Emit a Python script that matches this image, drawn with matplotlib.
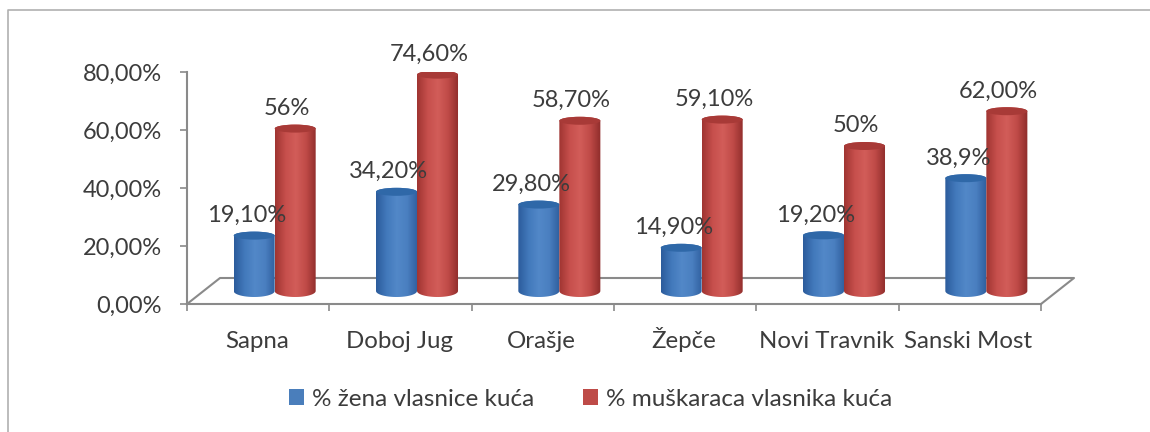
import numpy as np
import matplotlib.pyplot as plt
from matplotlib.colors import LinearSegmentedColormap
from matplotlib.lines import Line2D
from matplotlib.patches import Ellipse, Patch, PathPatch
from matplotlib.path import Path

plt.rcParams["font.family"] = ["Lato", "DejaVu Sans"]

categories = ["Sapna", "Doboj Jug", "Orašje", "Žepče", "Novi Travnik", "Sanski Most"]
zene = [19.1, 34.2, 29.8, 14.9, 19.2, 38.9]
muskarci = [56.0, 74.6, 58.7, 59.1, 50.0, 62.0]
zene_labels = ["19,10%", "34,20%", "29,80%", "14,90%", "19,20%", "38,9%"]
muskarci_labels = ["56%", "74,60%", "58,70%", "59,10%", "50%", "62,00%"]
y_ticks = [0, 20, 40, 60, 80]
y_tick_labels = ["0,00%", "20,00%", "40,00%", "60,00%", "80,00%"]
series_names = ["% žena vlasnice kuća", "% muškaraca vlasnika kuća"]

TEXT = "#3c3c3c"
AXIS = "#8a8a8a"
BLUE = ["#2c5c9c", "#4279bb", "#5288c8", "#4a7fc0", "#2f5f9e"]
RED = ["#a03532", "#c64f4c", "#d25d59", "#bf4a47", "#8f2d2b"]

# floor depth, in axis units
DEPTH_X = 33 / 142.3
DEPTH_Y = 26 / 2.9
BAR_W = 41 / 142.3
CAP_H = 8 / 2.9


def draw_cylinder(ax, x0, value, colors, cap_color):
    base = DEPTH_Y / 2
    top = base + value
    xc = x0 + BAR_W / 2
    verts = [(x0, top), (x0, base)]
    codes = [Path.MOVETO, Path.LINETO]
    t = np.linspace(np.pi, 2 * np.pi, 30)
    verts += [(xc + BAR_W / 2 * np.cos(a), base + CAP_H * 0.75 * np.sin(a)) for a in t]
    codes += [Path.LINETO] * 30
    t = np.linspace(0, np.pi, 30)
    verts += [(xc + BAR_W / 2 * np.cos(a), top + CAP_H / 2 * np.sin(a)) for a in t]
    codes += [Path.LINETO] * 30
    verts.append((x0, top))
    codes.append(Path.CLOSEPOLY)

    shape = PathPatch(Path(verts, codes), facecolor="none", edgecolor="none", zorder=3)
    ax.add_patch(shape)
    cmap = LinearSegmentedColormap.from_list("cyl", colors)
    im = ax.imshow(
        np.linspace(0, 1, 64).reshape(1, -1), cmap=cmap, aspect="auto", zorder=3,
        extent=(x0, x0 + BAR_W, base - CAP_H, top + CAP_H), interpolation="bilinear",
    )
    im.set_clip_path(shape)
    ax.add_patch(Ellipse((xc, top), BAR_W, CAP_H, facecolor=cap_color, edgecolor="none", zorder=4))
    return top


fig = plt.figure(figsize=(11.5, 4.32), dpi=100)
ax = fig.add_axes([187 / 1150, 1 - 304 / 432, 854 / 1150, 232 / 432])

n = len(categories)
for i in range(n):
    junction = i + 0.5 + DEPTH_X / 2
    top_z = draw_cylinder(ax, junction - BAR_W, zene[i], BLUE, "#2f68a8")
    top_m = draw_cylinder(ax, junction, muskarci[i], RED, "#a83a37")
    ax.annotate(zene_labels[i], (junction - BAR_W / 2, top_z), xytext=(-5.5, 14.5),
                textcoords="offset points", ha="center", va="center",
                fontsize=17, color=TEXT, zorder=6, annotation_clip=False)
    ax.annotate(muskarci_labels[i], (junction + BAR_W / 2, top_m), xytext=(-6, 14.5),
                textcoords="offset points", ha="center", va="center",
                fontsize=17, color=TEXT, zorder=6, annotation_clip=False)

ax.set_xlim(0, n)
ax.set_ylim(0, 80)

# floor of the 3D box
floor_x = [0, DEPTH_X, n + DEPTH_X, n]
floor_y = [0, DEPTH_Y, DEPTH_Y, 0]
ax.add_line(Line2D(floor_x, floor_y, color=AXIS, lw=1.5, clip_on=False, zorder=2))

for side in ["top", "right"]:
    ax.spines[side].set_visible(False)
for side in ["left", "bottom"]:
    ax.spines[side].set_color(AXIS)
    ax.spines[side].set_linewidth(1.5)

ax.set_yticks(y_ticks)
ax.set_yticklabels(y_tick_labels, fontsize=17, color=TEXT)
ax.set_xticks(range(n + 1))
ax.set_xticklabels([])
ax.set_xticks(np.arange(n) + 0.49, categories, minor=True, fontsize=17.3, color=TEXT)
for lab in ax.get_xticklabels(minor=True):
    lab.set_verticalalignment("baseline")
ax.tick_params(axis="y", length=5, width=1.2, color=AXIS, pad=13)
ax.tick_params(axis="x", which="major", length=5, width=1.2, color=AXIS)
ax.tick_params(axis="x", which="minor", length=0, pad=32)

handles = [Patch(facecolor="#4a7ebb"), Patch(facecolor="#be4b48")]
fig.legend(handles, series_names, ncol=2, frameon=False, fontsize=17.5, labelcolor=TEXT,
           loc="center", bbox_to_anchor=(591 / 1150, 1 - 399 / 432),
           handlelength=0.6, handleheight=0.6, handletextpad=0.35, columnspacing=2.0)

# outer chart frame
fig.add_artist(Line2D([8 / 1150, 8 / 1150, 1], [0, 1 - 10 / 432, 1 - 10 / 432],
                      color="#b0b0b0", lw=1.2))

fig.savefig("out.png", dpi=100)
